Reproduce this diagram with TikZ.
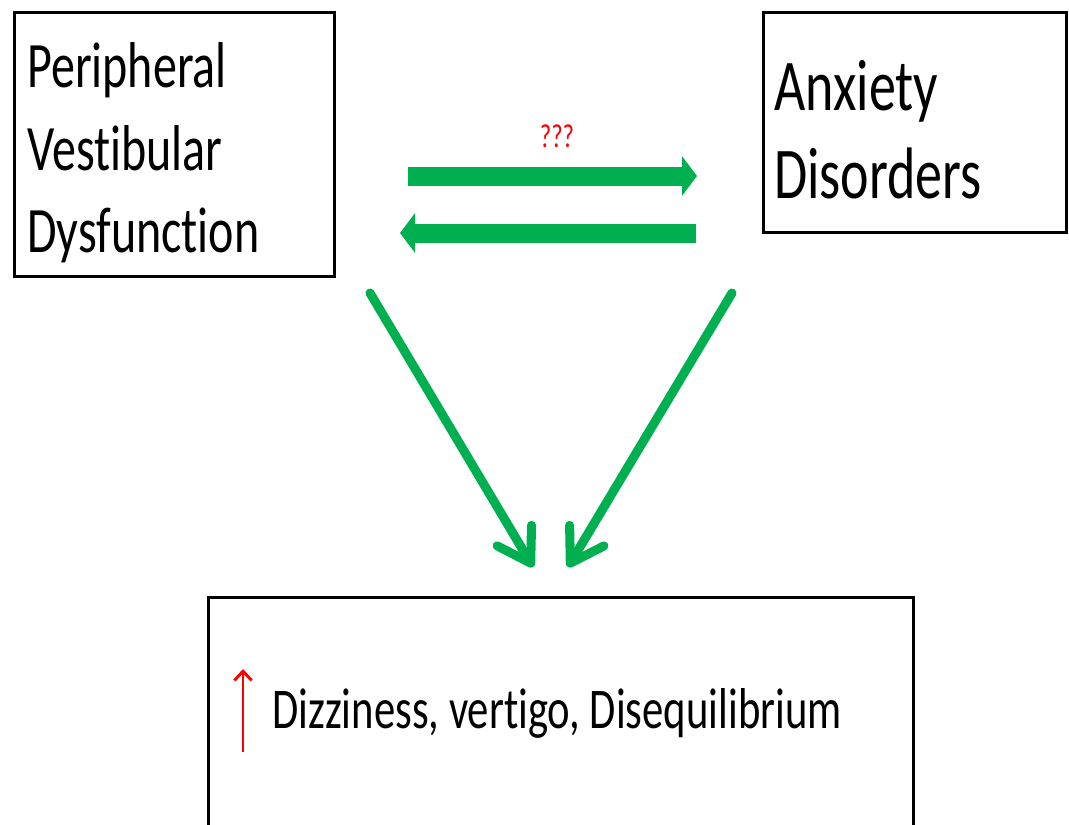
\documentclass[tikz,border=0pt]{standalone}
\usepackage{graphicx}
\usepackage{fontspec}
\setmainfont[Ligatures=NoCommon]{Carlito}
\usetikzlibrary{arrows.meta}
\definecolor{offgreen}{RGB}{0,176,80}
\newcommand{\stretchtxt}[3]{\scalebox{1}[1.35]{\fontsize{#1}{#2}\selectfont\begin{tabular}[t]{@{}l@{}}#3\end{tabular}}}
\begin{document}
\begin{tikzpicture}[x=0.75pt,y=-0.75pt,
  box/.style={draw=black, line width=2.3pt, inner sep=0pt, anchor=north west},
  lbl/.style={inner sep=0pt, anchor=base west},
  blockarrow/.style={draw=offgreen, line width=14.25pt, -{Triangle[length=11.25pt,width=29.25pt]}},
  linearrow/.style={draw=offgreen, line width=6.8pt, line cap=round, -{Straight Barb[length=24pt,width=30pt,round]}},
  uparrow/.style={draw=red, line width=2.2pt, -{Straight Barb[length=7pt,width=13pt]}}]
\useasboundingbox (0,0) rectangle (1069,824);
% boxes
\node[box, minimum width=240pt, minimum height=198pt] (pvd) at (13,11) {};
\node[box, minimum width=227.25pt, minimum height=165pt] (anx) at (762,11) {};
\node[box, minimum width=528.75pt, minimum height=180pt] (diz) at (207,596) {};
% texts
\node[lbl] (pvdtxt) at (27,88) {\stretchtxt{36}{45.6}{Peripheral\\Vestibular\\Dysfunction}};
\node[lbl] (anxtxt) at (774,110) {\stretchtxt{40.5}{48.9}{Anxiety\\Disorders}};
\node[lbl] (diztxt) at (272,728) {\stretchtxt{32}{38}{Dizziness, vertigo, Disequilibrium}};
\node[lbl, anchor=base, text=red] (qq) at (557,147) {\stretchtxt{18.5}{20}{???}};
% connector end points
\coordinate (h1s) at (408,176);
\coordinate (h1e) at (697,176);
\coordinate (h2s) at (696,233);
\coordinate (h2e) at (400,233);
\coordinate (d1s) at (370,293);
\coordinate (d1e) at (533,567);
\coordinate (d2s) at (732,293);
\coordinate (d2e) at (568,567);
\coordinate (ups) at (243,752);
\coordinate (upe) at (243,669);
% arrows
\draw[blockarrow] (h1s) -- (h1e);
\draw[blockarrow] (h2s) -- (h2e);
\draw[linearrow] (d1s) -- (d1e);
\draw[linearrow] (d2s) -- (d2e);
\draw[uparrow] (ups) -- (upe);
\end{tikzpicture}
\end{document}
